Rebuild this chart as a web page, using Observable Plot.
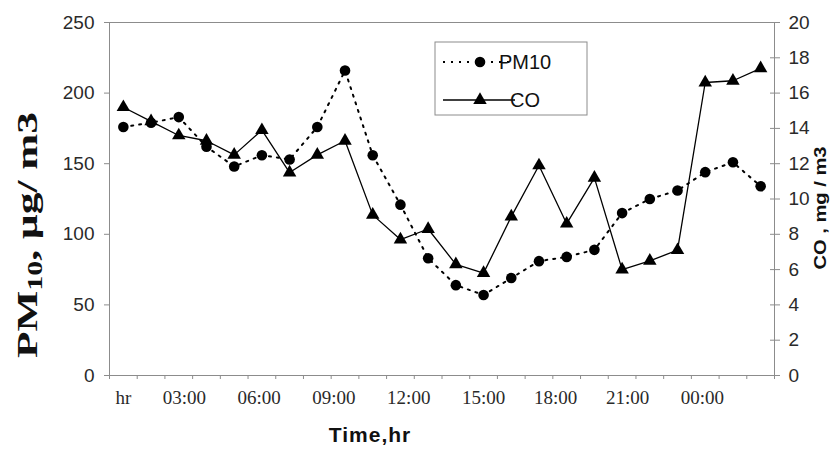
<!DOCTYPE html>
<html><head><meta charset="utf-8">
<script src="https://cdn.jsdelivr.net/npm/d3@7"></script>
<script src="https://cdn.jsdelivr.net/npm/@observablehq/plot@0.6"></script>
<style>
body{margin:0;background:#fff;}
#chart{position:relative;width:835px;height:451px;}
</style></head><body><div id="chart"></div>
<script>
// ---- data ----
const pm10 = [176, 179, 183, 162, 148, 156, 153, 176, 216, 156, 121, 83, 64, 57, 69, 81, 84, 89, 115, 125, 131, 144, 151, 134];
const co   = [15.2, 14.4, 13.6, 13.3, 12.5, 13.9, 11.5, 12.5, 13.3, 9.1, 7.7, 8.3, 6.3, 5.8, 9.0, 11.9, 8.6, 11.2, 6.0, 6.5, 7.1, 16.6, 16.7, 17.4];
const xLabels   = ["hr", "03:00", "06:00", "09:00", "12:00", "15:00", "18:00", "21:00", "00:00"];
const xLabelPos = [0.5, 2.7, 5.4, 8.1, 10.8, 13.5, 16.1, 18.7, 21.4];
const pmTicks = [0, 50, 100, 150, 200, 250];
const coTicks = [0, 2, 4, 6, 8, 10, 12, 14, 16, 18, 20];
const seriesNames = ["PM10", "CO"];

const pmMax = 250, coMax = 20, k = pmMax / coMax;
const data = pm10.map((v, i) => ({x: i + 0.5, pm: v, co: co[i] * k}));
const labelMap = new Map(xLabelPos.map((p, i) => [p, xLabels[i]]));
const grey = "#8c8c8c";
const rCirc = 5.3, rTri = 5;

const chart = Plot.plot({
  width: 835, height: 451,
  marginLeft: 109, marginRight: 61, marginTop: 22, marginBottom: 76,
  x: {domain: [0, 24]},
  y: {domain: [0, pmMax]},
  style: {fontFamily: "'Liberation Sans', Arial, sans-serif", fontSize: "19px", background: "#fff", color: "#222"},
  marks: [
    Plot.frame({stroke: grey}),
    Plot.axisY(pmTicks, {anchor: "left", tickSize: 5, tickPadding: 10, label: null, stroke: grey, fill: "#2a2a2a", fontSize: 19}),
    Plot.axisY(coTicks.map(v => v * k), {anchor: "right", tickSize: 5, tickPadding: 9, label: null, stroke: grey, fill: "#2a2a2a", fontSize: 19, tickFormat: v => String(Math.round(v / k))}),
    Plot.axisY(coTicks.map(v => v * k), {anchor: "right", tickSize: -5, label: null, stroke: grey, tickFormat: () => ""}),
    Plot.axisX(d3.range(25), {tickSize: 4, label: null, stroke: grey, tickFormat: () => ""}),
    Plot.axisX(xLabelPos, {tickSize: 0, tickPadding: 15, label: null, fill: "#2a2a2a", fontFamily: "'Liberation Serif', 'Times New Roman', serif", fontSize: 19, tickFormat: d => labelMap.get(d)}),
    Plot.line(data, {x: "x", y: "pm", stroke: "#000", strokeWidth: 2, strokeDasharray: "2,6"}),
    Plot.line(data, {x: "x", y: "co", stroke: "#000", strokeWidth: 1.3}),
    Plot.dot(data, {x: "x", y: "pm", r: rCirc, fill: "#000", stroke: null}),
    Plot.dot(data, {x: "x", y: "co", r: rTri, symbol: "triangle", fill: "#000", stroke: null})
  ]
});
document.getElementById("chart").appendChild(chart);

const svg = d3.select(chart);
// x title
svg.append("text").attr("x", 370).attr("y", 434).attr("text-anchor", "middle").attr("dominant-baseline", "central")
  .attr("font-family", "'Liberation Sans', Arial, sans-serif").attr("font-weight", "bold").attr("font-size", 21)
  .attr("letter-spacing", 1).attr("fill", "#111").text("Time,hr");
// left title
const lt = svg.append("text").attr("transform", "translate(27,235) rotate(-90)").attr("text-anchor", "middle")
  .attr("dominant-baseline", "central").attr("font-family", "'Liberation Serif', 'Times New Roman', serif")
  .attr("font-weight", "bold").attr("font-size", 29).attr("fill", "#111")
  .attr("textLength", 246).attr("lengthAdjust", "spacingAndGlyphs");
lt.append("tspan").text("PM");
lt.append("tspan").attr("font-size", 20).attr("dy", 8).text("10");
lt.append("tspan").attr("dy", -8).text(", \u00b5g/ m3");
// right title
svg.append("text").attr("transform", "translate(820,208) rotate(-90)").attr("text-anchor", "middle")
  .attr("dominant-baseline", "central").attr("font-family", "'Liberation Sans', Arial, sans-serif")
  .attr("font-weight", "bold").attr("font-size", 16.5).attr("fill", "#111")
  .attr("textLength", 123).attr("lengthAdjust", "spacingAndGlyphs").text("CO , mg / m3");
// legend
const lg = svg.append("g");
lg.append("rect").attr("x", 435).attr("y", 42).attr("width", 152).attr("height", 73).attr("fill", "#fff").attr("stroke", grey);
const rows = [{y: 62, dash: "2,6", sw: 2, sym: d3.symbolCircle, size: rCirc * rCirc * Math.PI},
              {y: 100, dash: null, sw: 1.3, sym: d3.symbolTriangle, size: rTri * rTri * Math.PI}];
rows.forEach((r, i) => {
  lg.append("line").attr("x1", 443).attr("x2", 515).attr("y1", r.y).attr("y2", r.y)
    .attr("stroke", "#000").attr("stroke-width", r.sw).attr("stroke-dasharray", r.dash);
  lg.append("path").attr("d", d3.symbol(r.sym, r.size)()).attr("transform", `translate(480,${r.y})`).attr("fill", "#000");
  lg.append("text").attr("x", 525).attr("y", r.y).attr("dominant-baseline", "central")
    .attr("font-family", "'Liberation Sans', Arial, sans-serif").attr("font-size", 20).attr("fill", "#111").text(seriesNames[i]);
});
</script></body></html>
